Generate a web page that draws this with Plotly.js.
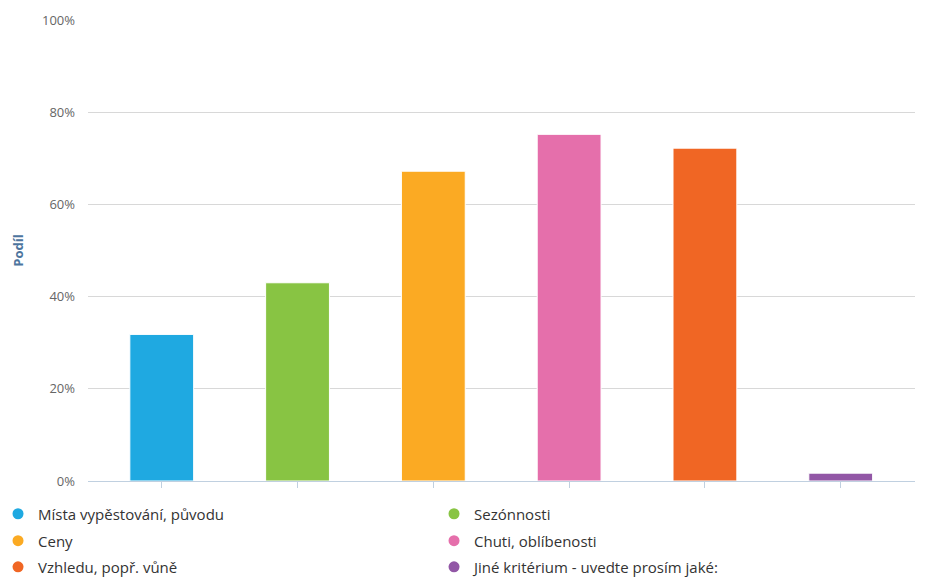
<!DOCTYPE html>
<html>
<head>
<meta charset="utf-8">
<script src="https://cdn.plot.ly/plotly-3.0.1.min.js"></script>
<style>html,body{margin:0;padding:0;background:#fff;}#chart{width:930px;height:578px;}</style>
</head>
<body>
<div id="chart"></div>
<script>
const categories = ["Místa vypěstování, původu", "Sezónnosti", "Ceny", "Chuti, oblíbenosti", "Vzhledu, popř. vůně", "Jiné kritérium - uvedte prosím jaké:"];
const shares = [31.8, 43.0, 67.2, 75.2, 72.2, 1.7];
const colors = ["#1fa9e1", "#88c443", "#fbaa23", "#e56fab", "#f06624", "#9257a6"];
const yTicks = [0, 20, 40, 60, 80, 100];

const legendNames = ["legend", "legend", "legend2", "legend2", "legend3", "legend3"];

const traces = [{
  type: "bar",
  x: categories.map((c, i) => i),
  y: shares,
  width: 0.47,
  marker: {color: colors, line: {color: "#ffffff", width: 1}},
  showlegend: false,
  hoverinfo: "y"
}];
categories.forEach((c, i) => {
  traces.push({
    type: "scatter", mode: "markers", x: [null], y: [null], name: c,
    marker: {symbol: "circle", size: 11, color: colors[i]},
    showlegend: true, legend: legendNames[i]
  });
});

function legendAt(y) {
  return {
    orientation: "h",
    x: -0.1088, xanchor: "left",
    y: y, yanchor: "middle",
    entrywidth: 391, entrywidthmode: "pixels",
    font: {size: 15, color: "#333333"},
    bgcolor: "rgba(0,0,0,0)"
  };
}

const layout = {
  width: 930, height: 578,
  margin: {l: 88, r: 15, t: 20, b: 97, autoexpand: false},
  paper_bgcolor: "#ffffff", plot_bgcolor: "#ffffff",
  font: {family: "Open Sans, sans-serif", color: "#333"},
  xaxis: {
    range: [-0.543, 5.547],
    tickvals: categories.map((c, i) => i),
    ticktext: categories.map(() => ""),
    ticks: "outside", ticklen: 6, tickcolor: "#c0d0e0", tickwidth: 1,
    showgrid: false, zeroline: false,
    showline: true, linecolor: "#c0d0e0", linewidth: 1,
    fixedrange: true
  },
  yaxis: {
    range: [0, 100],
    tickvals: yTicks,
    ticktext: yTicks.map(v => v + "%"),
    tickfont: {size: 13, color: "#666666"},
    ticks: "", ticklabelstandoff: 12,
    showgrid: true, gridcolor: "#d8d8d8", gridwidth: 1,
    zeroline: false, showline: false,
    title: {text: "Podíl", font: {size: 13, color: "#4d759e", weight: "bold"}, standoff: 15},
    fixedrange: true
  },
  showlegend: true,
  legend: legendAt(-0.0716),
  legend2: legendAt(-0.1301),
  legend3: legendAt(-0.1866)
};

Plotly.newPlot("chart", traces, layout, {displayModeBar: false, staticPlot: true});
</script>
</body>
</html>
